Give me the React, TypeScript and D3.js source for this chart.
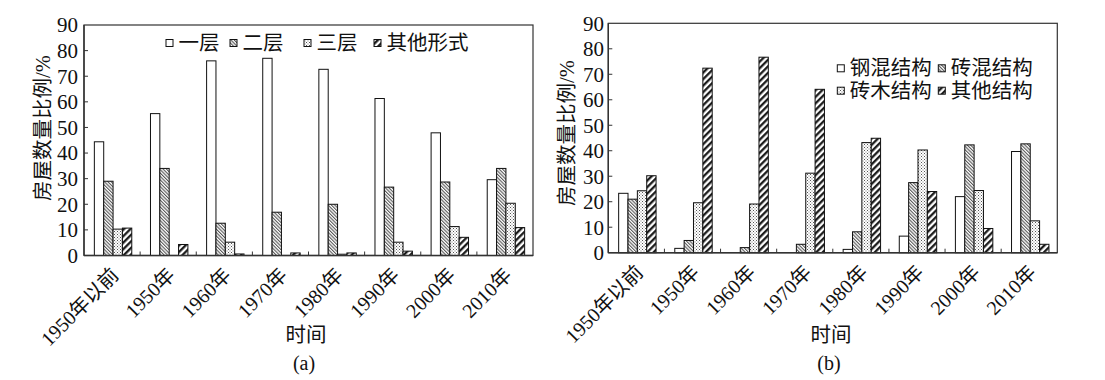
import React from "react";
import * as d3 from "d3";

const categories = ["1950年以前", "1950年", "1960年", "1970年", "1980年", "1990年", "2000年", "2010年"];
const yTicks = [0, 10, 20, 30, 40, 50, 60, 70, 80, 90];

const seriesA = ["一层", "二层", "三层", "其他形式"];
const a1 = [44.4, 55.4, 76, 77, 72.7, 61.3, 47.9, 29.6];
const a2 = [29, 34, 12.6, 16.9, 20, 26.7, 28.7, 34];
const a3 = [10.3, 0, 5.2, 0, 0.5, 5.2, 11.3, 20.4];
const a4 = [10.7, 4.3, 0.6, 1, 1, 1.7, 7.1, 10.9];

const seriesB = ["钢混结构", "砖混结构", "砖木结构", "其他结构"];
const b1 = [23.3, 1.7, 0, 0, 1.3, 6.5, 22, 39.7];
const b2 = [21, 4.8, 2, 3.3, 8.2, 27.5, 42.3, 42.7];
const b3 = [24.3, 19.6, 19.1, 31.2, 43.2, 40.3, 24.4, 12.5];
const b4 = [30.2, 72.4, 76.7, 64.1, 44.9, 24, 9.5, 3.3];

const FILLS = ["#fff", "url(#hatch)", "url(#dots)", "url(#thick)"];
const NUM_FONT = "'Liberation Serif', 'Times New Roman', serif";
const CJK_FONT = "'Liberation Serif', 'Noto Sans CJK SC', serif";
const INK = "#111";

type PanelProps = {
  series: string[];
  values: number[][];
  left: number;
  right: number;
  top: number;
  bottom: number;
  tickRight: number;
  yLabelPos: [number, number];
  titleX: number;
  caption: string;
  legend: { x: number; y: number }[];
};

function Panel(p: PanelProps) {
  const x = d3.scaleBand<string>().domain(categories).range([p.left, p.right]).paddingInner(0).paddingOuter(0);
  const xs = d3.scaleBand<string>().domain(p.series).range([0, x.bandwidth()]).paddingInner(0).paddingOuter(1);
  const y = d3.scaleLinear().domain([0, 90]).range([p.bottom, p.top]);
  const bw = x.bandwidth();
  return (
    <g>
      <rect x={p.left} y={p.top} width={p.right - p.left} height={p.bottom - p.top} fill="#fff" stroke="#333" strokeWidth={1.2} />
      {p.values.map((vals, si) =>
        vals.map((v, ci) =>
          v > 0 ? (
            <rect
              key={`${si}-${ci}`}
              x={(x(categories[ci]) as number) + (xs(p.series[si]) as number) + 1}
              y={y(v)}
              width={xs.bandwidth()}
              height={p.bottom - y(v)}
              fill={FILLS[si]}
              stroke="#111"
              strokeWidth={1}
            />
          ) : null
        )
      )}
      {yTicks.map((t) => (
        <g key={t}>
          {t > 0 && t < 90 && <line x1={p.left} x2={p.left + 4} y1={y(t)} y2={y(t)} stroke="#333" strokeWidth={1} />}
          <text x={p.tickRight} y={y(t)} dy="0.35em" textAnchor="end" fontFamily={NUM_FONT} fontSize={21} fill={INK}>
            {t}
          </text>
        </g>
      ))}
      {categories.slice(1).map((c) => (
        <line key={c} x1={x(c) as number} x2={x(c) as number} y1={p.bottom} y2={p.bottom - 4} stroke="#333" strokeWidth={1} />
      ))}
      <line x1={p.left} x2={p.right} y1={p.bottom} y2={p.bottom} stroke="#333" strokeWidth={1.4} />
      <line x1={p.left} x2={p.left} y1={p.top} y2={p.bottom} stroke="#333" strokeWidth={1.4} />
      {categories.map((c) => {
        const cx = (x(c) as number) + bw / 2 + 3;
        const cy = p.bottom + 16;
        return (
          <text
            key={c}
            transform={`translate(${cx},${cy}) rotate(-45)`}
            textAnchor="end"
            dy="0.35em"
            fontFamily={CJK_FONT}
            fontSize={20}
            fill={INK}
          >
            {c}
          </text>
        );
      })}
      <text
        transform={`translate(${p.yLabelPos[0]},${p.yLabelPos[1]}) rotate(-90)`}
        textAnchor="middle"
        dy="0.35em"
        fontFamily={CJK_FONT}
        fontSize={20.5}
        fill={INK}
      >
        房屋数量比例/%
      </text>
      <text x={p.titleX} y={335} dy="0.35em" textAnchor="middle" fontFamily={CJK_FONT} fontSize={20.5} fill={INK}>
        时间
      </text>
      <text x={p.titleX - 2} y={363} dy="0.35em" textAnchor="middle" fontFamily={NUM_FONT} fontSize={20} fill={INK}>
        {p.caption}
      </text>
      {p.series.map((s, i) => (
        <g key={s}>
          <rect x={p.legend[i].x} y={p.legend[i].y - 3.5} width={7} height={7} fill={FILLS[i]} stroke="#111" strokeWidth={1} />
          <text x={p.legend[i].x + 12.5} y={p.legend[i].y} dy="0.35em" fontFamily={CJK_FONT} fontSize={20.5} fill={INK}>
            {s}
          </text>
        </g>
      ))}
    </g>
  );
}

export default function App() {
  return (
    <div style={{ position: "absolute", left: 0, top: 0 }}>
      <svg width={1105} height={380} style={{ display: "block", background: "#fff" }}>
        <defs>
          <pattern id="hatch" patternUnits="userSpaceOnUse" width={2.4} height={2.4} patternTransform="rotate(-45)">
            <rect width={2.4} height={2.4} fill="#fff" />
            <line x1={0.6} y1={0} x2={0.6} y2={2.4} stroke="#333" strokeWidth={0.9} />
          </pattern>
          <pattern id="dots" patternUnits="userSpaceOnUse" width={3} height={3}>
            <rect width={3} height={3} fill="#fff" />
            <rect x={0} y={0} width={1} height={1} fill="#555" />
            <rect x={1.5} y={1.5} width={1} height={1} fill="#777" />
          </pattern>
          <pattern id="thick" patternUnits="userSpaceOnUse" width={4.6} height={4.6} patternTransform="rotate(45)">
            <rect width={4.6} height={4.6} fill="#fff" />
            <line x1={1.2} y1={0} x2={1.2} y2={4.6} stroke="#111" strokeWidth={2.2} />
          </pattern>
        </defs>
        <Panel
          series={seriesA}
          values={[a1, a2, a3, a4]}
          left={84}
          right={533}
          top={25}
          bottom={255.5}
          tickRight={78}
          yLabelPos={[43, 128]}
          titleX={306}
          caption="(a)"
          legend={[
            { x: 166, y: 43 },
            { x: 230, y: 43 },
            { x: 304, y: 43 },
            { x: 374, y: 43 },
          ]}
        />
        <Panel
          series={seriesB}
          values={[b1, b2, b3, b4]}
          left={608.3}
          right={1057.3}
          top={23.3}
          bottom={252.7}
          tickRight={604}
          yLabelPos={[567, 133]}
          titleX={831}
          caption="(b)"
          legend={[
            { x: 837.3, y: 68.3 },
            { x: 938.3, y: 68.3 },
            { x: 837.3, y: 90.7 },
            { x: 938.3, y: 90.7 },
          ]}
        />
      </svg>
    </div>
  );
}
